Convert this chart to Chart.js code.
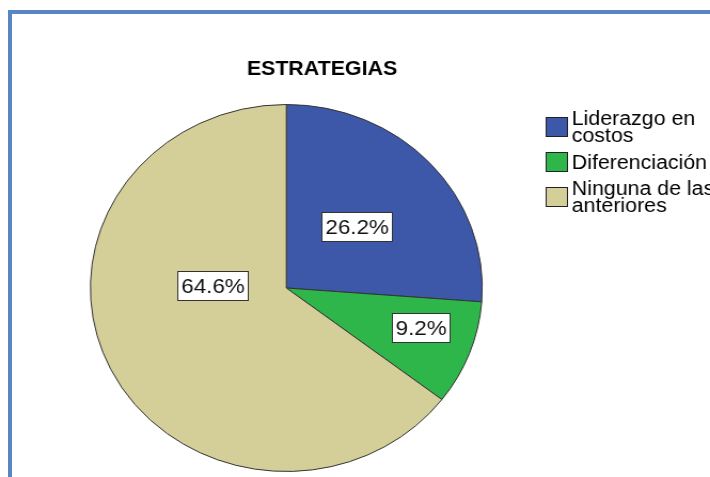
<!DOCTYPE html>
<html>
<head>
<meta charset="utf-8">
<script src="https://cdn.jsdelivr.net/npm/chart.js@4.4.1/dist/chart.umd.min.js"></script>
<style>
    html, body { margin: 0; padding: 0; background: #fff; }
    #page { position: relative; width: 710px; height: 477px; overflow: hidden; }
    #frame {
        position: absolute; left: 8px; top: 10px; width: 720px; height: 480px;
        border-top: 4px solid #5686c6; border-left: 4px solid #5686c6;
    }
    /* the original picture is stretched a little sideways, so is the chart */
    #wrap {
        position: absolute; left: 0; top: 0; width: 665px; height: 477px;
        transform: scaleX(1.0677); transform-origin: 0 0;
    }
</style>
</head>
<body>
<div id="page">
    <div id="frame"></div>
    <div id="wrap"><canvas id="chart"></canvas></div>
</div>
<script>
const chartTitle = 'ESTRATEGIAS';
const categories = [['Liderazgo en', 'costos'], ['Diferenciación'], ['Ninguna de las', 'anteriores']];
const percentages = [26.2, 9.2, 64.6];

const sliceColors = ['#3d58a9', '#2fb64b', '#d4ce99'];
const FONT = '"Liberation Sans", Arial, sans-serif';

// boxed percentage labels, SPSS style
const pieLabels = {
    id: 'pieLabels',
    afterDatasetsDraw(chart, args, opts) {
        const ctx = chart.ctx;
        const meta = chart.getDatasetMeta(0);
        ctx.save();
        ctx.font = '21px ' + FONT;
        ctx.textAlign = 'center';
        ctx.textBaseline = 'middle';
        meta.data.forEach((arc, i) => {
            const p = arc.getProps(['x', 'y', 'startAngle', 'endAngle', 'outerRadius'], true);
            const a = (p.startAngle + p.endAngle) / 2 + opts.angleShift[i] * Math.PI / 180;
            const r = p.outerRadius * opts.radiusFactor[i];
            const x = p.x + Math.cos(a) * r;
            const y = p.y + Math.sin(a) * r;
            const text = percentages[i].toFixed(1) + '%';
            const w = Math.round(ctx.measureText(text).width + 6);
            const h = 29;
            const bx = Math.round(x - w / 2), by = Math.round(y - h / 2);
            ctx.fillStyle = '#fff';
            ctx.fillRect(bx, by, w, h);
            ctx.strokeStyle = '#333';
            ctx.lineWidth = 1;
            ctx.strokeRect(bx + 0.5, by + 0.5, w, h);
            ctx.fillStyle = '#111';
            ctx.fillText(text, bx + w / 2 + 0.5, by + h / 2 + 1.5);
        });
        ctx.restore();
    }
};

// title and legend on the right
const sideText = {
    id: 'sideText',
    afterDraw(chart) {
        const ctx = chart.ctx;
        ctx.save();
        ctx.fillStyle = '#000';
        ctx.font = 'bold 20px ' + FONT;
        ctx.textAlign = 'center';
        ctx.textBaseline = 'alphabetic';
        ctx.fillText(chartTitle, 301.6, 75);

        ctx.font = '20px ' + FONT;
        ctx.textAlign = 'left';
        const sx = 511, top0 = 117, step = 35, lh = 17;
        categories.forEach((lines, i) => {
            const top = top0 + step * i;
            ctx.fillStyle = sliceColors[i];
            ctx.fillRect(sx, top, 20, 19);
            ctx.strokeStyle = '#222';
            ctx.lineWidth = 1;
            ctx.strokeRect(sx + 0.5, top + 0.5, 20, 19);
            const mid = top + 10;
            let base = mid - (lines.length - 1) * lh / 2 + 6.5;
            ctx.fillStyle = '#000';
            lines.forEach(line => {
                ctx.fillText(line, sx + 24.5, base);
                base += lh;
            });
        });
        ctx.restore();
    }
};

new Chart(document.getElementById('chart'), {
    type: 'pie',
    data: {
        labels: categories.map(l => l.join(' ')),
        datasets: [{
            data: percentages,
            backgroundColor: sliceColors,
            borderColor: '#333',
            borderWidth: 1
        }]
    },
    options: {
        responsive: true,
        maintainAspectRatio: false,
        animation: false,
        events: [],
        layout: { padding: { left: 84, right: 212.6, top: 104, bottom: 5 } },
        plugins: {
            legend: { display: false },
            title: { display: false },
            tooltip: { enabled: false },
            pieLabels: {
                radiusFactor: [0.49, 0.72, 0.38],
                angleShift: [0, -3.6, 28.3]
            }
        }
    },
    plugins: [pieLabels, sideText]
});
</script>
</body>
</html>
